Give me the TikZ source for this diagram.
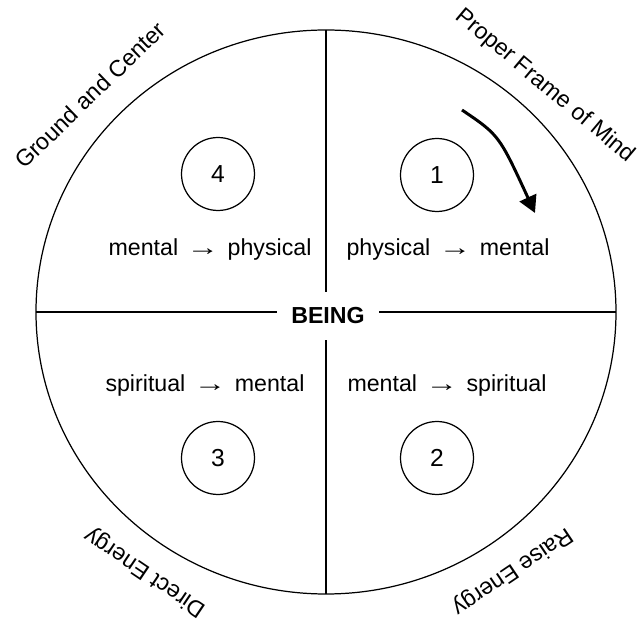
\documentclass[tikz,border=0pt]{standalone}
\usepackage{fontspec}
\setmainfont{Liberation Sans}
\usetikzlibrary{arrows.meta,positioning,calc}
\newcommand{\flowto}{\hspace{0.17cm}\scalebox{1.4}[1]{→}\hspace{0.17cm}}

\begin{document}
\begin{tikzpicture}[x=0.02cm,y=0.02cm,
  numcirc/.style={draw,circle,line width=0.7pt,minimum size=1.46cm,inner sep=0pt,
    font=\fontsize{14}{16}\selectfont},
  flowlabel/.style={anchor=base,font=\fontsize{13.2}{15}\selectfont},
  rimlabel/.style={font=\fontsize{13.2}{15}\selectfont}]
  \useasboundingbox (-326,-310) rectangle (311,312);

  % outer ring and the four quarters
  \coordinate (c) at (0,0);
  \draw[line width=0.7pt] (c) ellipse [x radius=290, y radius=282];
  \coordinate (top) at (0,282);
  \coordinate (bottom) at (0,-282);
  \coordinate (left) at (-290,0);
  \coordinate (right) at (290,0);
  \node[font=\fontsize{13.2}{15}\selectfont\bfseries,inner xsep=0.27cm,inner ysep=0.3cm] (being) at (2,-4) {BEING};
  \draw[line width=0.7pt] (top) -- (top |- being.north);
  \draw[line width=0.7pt] (bottom) -- (bottom |- being.south);
  \draw[line width=0.7pt] (left) -- (being.west |- c);
  \draw[line width=0.7pt] (right) -- (being.east |- c);

  % numbered steps
  \node[numcirc] (n4) at (-108,138) {4};
  \node[numcirc] (n1) at (111,137) {1};
  \node[numcirc] (n3) at (-108,-146) {3};
  \node[numcirc] (n2) at (111,-146) {2};

  \node[flowlabel] (f4) at (-116,56) {mental\flowto physical};
  \node[flowlabel] (f1) at (122,56) {physical\flowto mental};
  \node[flowlabel] (f3) at (-121,-80) {spiritual\flowto mental};
  \node[flowlabel] (f2) at (121,-80) {mental\flowto spiritual};

  % labels round the rim
  \node[rimlabel,rotate=44] (ground) at (-236,217) {Ground and Center};
  \node[rimlabel,rotate=-40] (frame) at (219,226) {Proper Frame of Mind};
  \node[rimlabel,rotate=146] (direct) at (-181,-260) {Direct Energy};
  \node[rimlabel,rotate=214] (raise) at (186,-259) {Raise Energy};

  % turning direction
  \coordinate (turnstart) at (136,202);
  \coordinate (turnend) at (209,99);
  \draw[line width=1.7pt,-{Triangle[length=3.4mm,width=3.6mm]}] (turnstart) .. controls (173,177) .. (turnend);
\end{tikzpicture}
\end{document}
